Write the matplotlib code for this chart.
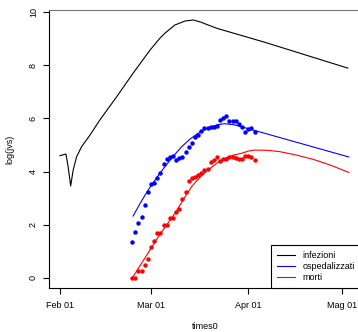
import numpy as np
import pandas as pd
import matplotlib
matplotlib.use("Agg")
import matplotlib.pyplot as plt

plt.rcParams['font.family'] = ['Liberation Sans', 'DejaVu Sans']

base = pd.Timestamp('2020-02-01')

# observed daily points (log scale), from Feb 24
obs_start = '2020-02-24'
osped_obs = [1.36, 1.72, 2.06, 2.30, 2.73, 3.22, 3.53, 3.58, 3.75, 3.94,
             4.27, 4.47, 4.56, 4.59, 4.44, 4.50, 4.56, 4.75, 4.91, 5.09,
             5.29, 5.38, 5.53, 5.65, 5.65, 5.67, 5.69, 5.73, 5.94, 6.00,
             6.09, 5.90, 5.90, 5.90, 5.79, 5.67, 5.50, 5.59, 5.63, 5.50]
morti_obs = [0.00, 0.00, 0.26, 0.26, 0.49, 0.70, 1.18, 1.39, 1.70, 1.70,
             1.98, 1.98, 2.24, 2.24, 2.49, 2.58, 2.97, 3.24, 3.66, 3.75,
             3.81, 3.87, 3.94, 4.06, 4.09, 4.37, 4.44, 4.54, 4.41, 4.47,
             4.47, 4.56, 4.56, 4.50, 4.47, 4.47, 4.60, 4.59, 4.54, 4.44]

# model curves (days after Feb 01, log value)
inf_days = [0, 1.9, 2.6, 3.4, 4.2, 5.3, 6.9, 9.6, 12.7, 18.1, 23.3, 28.7,
            31.8, 33.4, 36.6, 39.8, 42.5, 45.1, 47.2, 49.9, 52.5, 65.3, 91.7]
inf_vals = [4.60, 4.66, 4.18, 3.46, 4.06, 4.56, 4.94, 5.38, 5.94, 6.82, 7.70, 8.57,
            9.01, 9.20, 9.51, 9.66, 9.70, 9.61, 9.51, 9.39, 9.30, 8.86, 7.89]
osp_days = [23.3, 25.5, 28.1, 30.8, 33.4, 36.1, 38.8, 41.4, 44.0, 46.2, 48.3,
            50.5, 52.5, 55.5, 59.5, 92.0]
osp_vals = [2.33, 2.80, 3.31, 3.77, 4.18, 4.58, 4.94, 5.22, 5.44, 5.58, 5.69,
            5.77, 5.80, 5.76, 5.63, 4.55]
mor_days = [23.0, 27.0, 31.3, 34.0, 36.6, 39.3, 41.9, 44.5, 47.2, 49.8, 52.5,
            55.2, 57.9, 60.0, 62.1, 66.0, 70.0, 75.0, 80.7, 86.0, 92.0]
mor_vals = [0.00, 0.74, 1.55, 2.00, 2.43, 2.95, 3.43, 3.77, 4.06, 4.30, 4.50,
            4.62, 4.69, 4.77, 4.81, 4.80, 4.75, 4.63, 4.46, 4.25, 3.97]

legend_labels = ['infezioni', 'ospedalizzati', 'morti']
tick_dates = ['2020-02-01', '2020-03-01', '2020-04-01', '2020-05-01']
tick_labels = ['Feb 01', 'Mar 01', 'Apr 01', 'Mag 01']


def to_dates(days):
    return base + pd.to_timedelta(np.array(days), unit='D')


obs_dates = pd.date_range(obs_start, periods=len(osped_obs), freq='D')

fig = plt.figure(figsize=(3.58, 3.32), dpi=100)
ax = fig.add_axes([49 / 358, 44 / 332, 312 / 358, 278 / 332])

lw = 0.8
ax.plot(to_dates(inf_days), inf_vals, color='black', lw=lw, label=legend_labels[0])
ax.plot(to_dates(osp_days), osp_vals, color='blue', lw=lw, label=legend_labels[1])
ax.plot(to_dates(mor_days), mor_vals, color='red', lw=lw, label=legend_labels[2])
ax.plot(obs_dates, osped_obs, 'o', color='blue', ms=3.2, mew=0)
ax.plot(obs_dates, morti_obs, 'o', color='red', ms=3.2, mew=0)

ax.set_xlim(base + pd.Timedelta(days=-3.5), base + pd.Timedelta(days=95.9))
ax.set_ylim(-0.376, 10.075)

ax.set_xticks(pd.to_datetime(tick_dates))
ax.set_xticklabels(tick_labels)
ax.set_yticks([0, 2, 4, 6, 8, 10])
ax.set_yticklabels(['0', '2', '4', '6', '8', '10'], rotation=90, va='center')
ax.tick_params(axis='both', labelsize=6.5, length=4, width=0.8, colors='black')
ax.tick_params(axis='x', pad=5)
ax.tick_params(axis='y', pad=4)
for s in ax.spines.values():
    s.set_linewidth(0.8)
ax.spines['top'].set_color('#777777')

ax.set_xlabel('times0', fontsize=6.5)
ax.set_ylabel('log(jvs)', fontsize=6.5)
ax.xaxis.set_label_coords(0.5, -0.124)
ax.yaxis.set_label_coords(-0.112, 0.5)

leg = ax.legend(loc='lower right', fontsize=6.5, frameon=True, fancybox=False,
                edgecolor='black', framealpha=1, borderaxespad=0,
                handlelength=2.0, handletextpad=0.8, labelspacing=0.2,
                borderpad=0.7)
leg.get_frame().set_linewidth(0.8)

fig.savefig('out.png', dpi=100)
